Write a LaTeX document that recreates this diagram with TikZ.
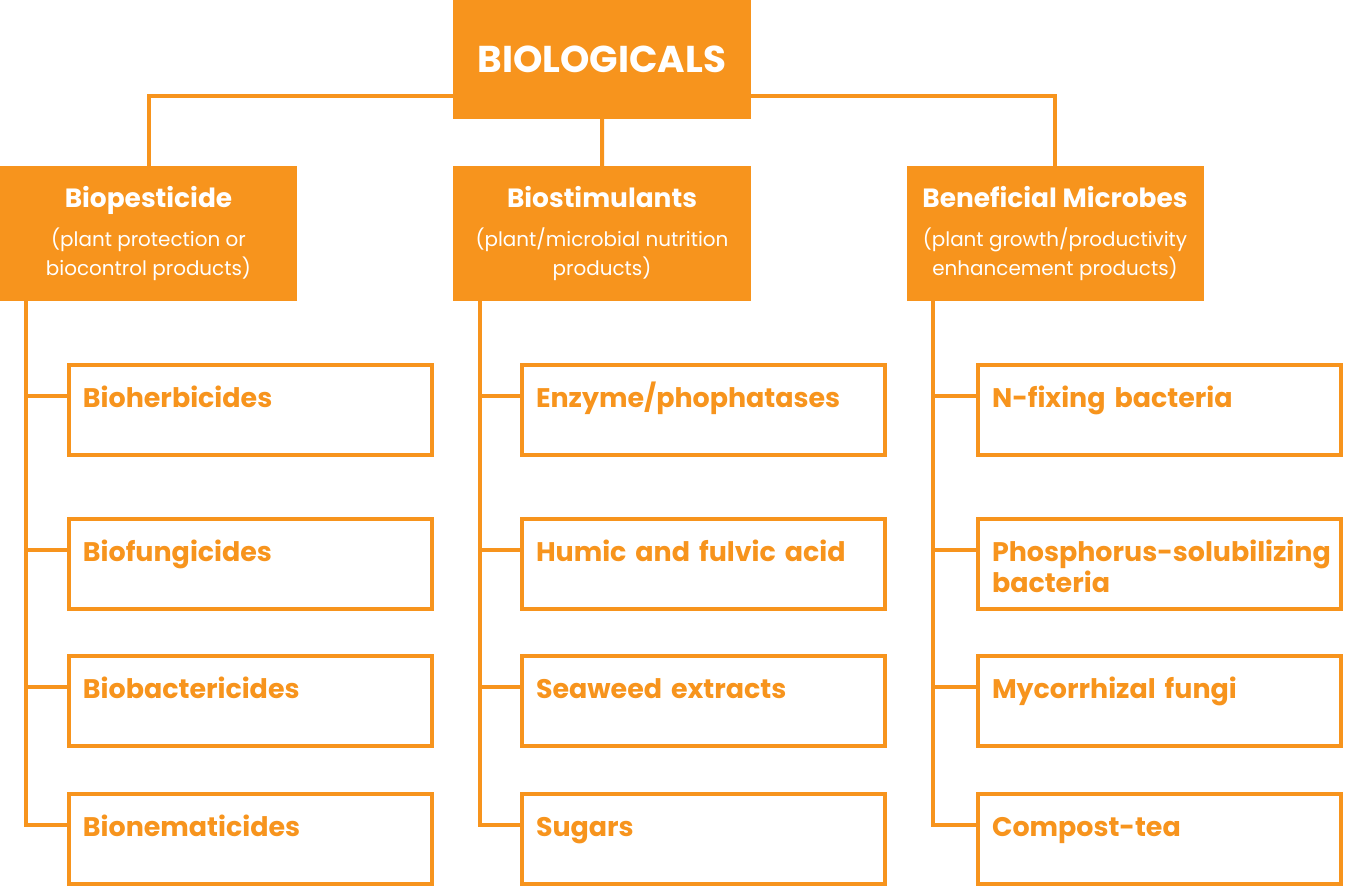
\documentclass[tikz,border=0pt]{standalone}
\usepackage{fontspec}
\setmainfont{Poppins}
\usepackage{tikz}
\usetikzlibrary{positioning}

\definecolor{bioorange}{HTML}{F7941D}
\newcommand{\headtitle}{\fontsize{26.5}{30}\selectfont\bfseries}

\begin{document}
\begin{tikzpicture}[x=1bp,y=-1bp,line width=4bp,outer sep=0pt]

  \tikzstyle{every node}=[outer sep=0pt]
  \tikzstyle{head}=[fill=bioorange,text=white,align=center,
                    minimum width=297bp,minimum height=135bp,
                    font=\fontsize{20}{29}\selectfont]
  \tikzstyle{leaf}=[draw=bioorange,text=bioorange,align=left,
                    minimum width=363bp,minimum height=90bp,
                    text width=335bp,inner xsep=14bp,
                    text height=22bp,text depth=28bp,
                    font=\fontsize{27}{32}\selectfont\bfseries]
  \tikzstyle{link}=[draw=bioorange,line width=4bp]

  \useasboundingbox (0,0) rectangle (1345,887);

  \node[head,minimum width=298bp,minimum height=120bp,
        font=\fontsize{37.5}{40}\selectfont\bfseries] (BIO) at (602,59) {BIOLOGICALS};

  \node[head] (PE) at (148.5,233.5)
        {{\headtitle Biopesticide}\\[11bp] (plant protection or\\ biocontrol products)};
  \node[head,minimum width=298bp] (ST) [right=156bp of PE]
        {{\headtitle Biostimulants}\\[11bp] (plant/microbial nutrition\\ products)};
  \node[head] (MI) [right=155.5bp of ST]
        {{\headtitle Beneficial Microbes}\\[11bp] (plant growth/productivity\\ enhancement products)};

  \node[leaf] (PE1) at (250.5,410)      {Bioherbicides};
  \node[leaf] (PE2) [below=64bp of PE1] {Biofungicides};
  \node[leaf] (PE3) [below=47bp of PE2] {Biobactericides};
  \node[leaf] (PE4) [below=48bp of PE3] {Bionematicides};

  \node[leaf] (ST1) [right=90bp of PE1] {Enzyme/phophatases};
  \node[leaf] (ST2) [below=64bp of ST1] {Humic and fulvic acid};
  \node[leaf] (ST3) [below=47bp of ST2] {Seaweed extracts};
  \node[leaf] (ST4) [below=48bp of ST3] {Sugars};

  \node[leaf] (MI1) [right=93bp of ST1] {N-fixing bacteria};
  \node[leaf] (MI2) [below=64bp of MI1] {\mbox{Phosphorus-solubilizing}\\ bacteria};
  \node[leaf] (MI3) [below=47bp of MI2] {Mycorrhizal fungi};
  \node[leaf] (MI4) [below=48bp of MI3] {Compost-tea};

  % top level
  \draw[link] (PE.north) |- ([yshift=-37bp]BIO.west);
  \draw[link] (MI.north) |- ([yshift=-37bp]BIO.east);
  \draw[link] (ST.north) -- (BIO.south);

  % trunks and branches
  \foreach \c in {PE,ST,MI}{
    \foreach \i in {1,...,4}{
      \draw[link] ([xshift=26.5bp]\c.south west) |- ([yshift=14bp]\c\i.west);
    }
  }
\end{tikzpicture}
\end{document}
